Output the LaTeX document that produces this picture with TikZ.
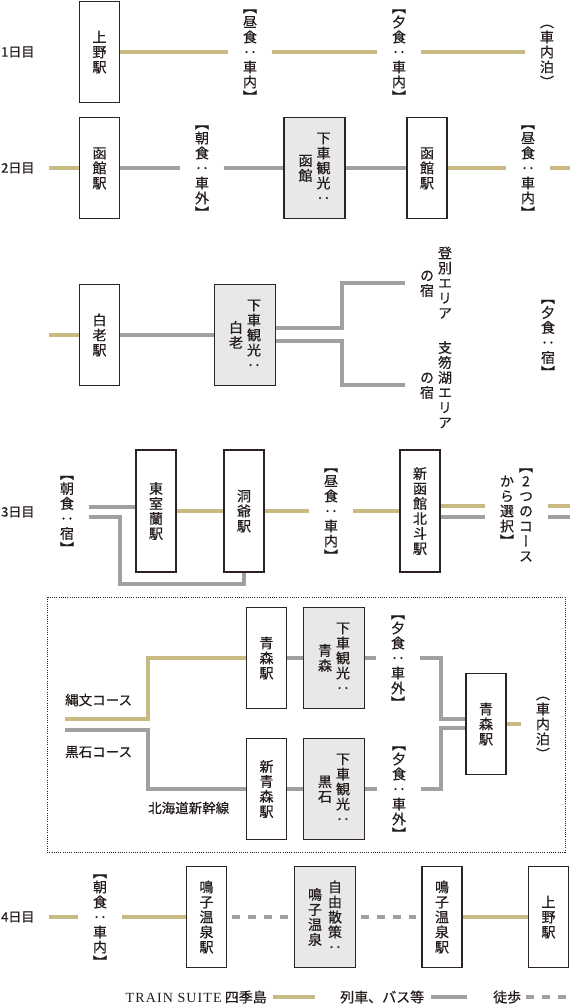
\documentclass[tikz,border=0pt]{standalone}
\usepackage{fontspec}
\usepackage{xcolor}
\usepackage{tikz}
\usetikzlibrary{positioning, calc}
\setmainfont{Noto Sans CJK JP}[FakeBold=0.6, AutoFakeBold=0.6]
\newfontfamily\vjp[RawFeature=+vert, FakeBold=0.5]{Noto Sans CJK JP}
\newfontfamily\latinserif[LetterSpace=8]{Liberation Serif}
\definecolor{suitegold}{RGB}{201, 185, 130}
\definecolor{transitgray}{RGB}{160, 160, 160}
\definecolor{boxline}{RGB}{45, 35, 35}
\definecolor{boxfill}{RGB}{232, 232, 232}
\definecolor{inkdark}{RGB}{35, 28, 26}

% one upright glyph per cell, stacked top to bottom
\makeatletter
\newcommand\vcell[1]{\hbox to 15pt{\hss\vrule width 0pt height 12.8pt depth 2.2pt\relax
  \vjp\fontsize{14pt}{15pt}\selectfont #1\hss}}
\newcommand\vcol[1]{$\vcenter{\offinterlineskip\@tfor\vc@tok:=#1\do{\vcell{\vc@tok}}}$}
\makeatother

\tikzset{
  stationbox/.style={draw=boxline, line width=1.2pt, fill=white, minimum width=40pt,
    minimum height=101pt, inner sep=0pt, text=inkdark},
  visitbox/.style={stationbox, fill=boxfill, minimum width=61pt},
  tallbox/.style={minimum height=122pt},
  mealnote/.style={inner xsep=14pt, inner ysep=0pt, text=inkdark},
  dayname/.style={font=\fontsize{13pt}{13pt}\selectfont\bfseries, text=inkdark, anchor=west, inner sep=0pt},
  courselabel/.style={font=\fontsize{13.5pt}{13.5pt}\selectfont, text=inkdark, anchor=west, inner sep=0pt},
  keytext/.style={font=\fontsize{14pt}{14pt}\selectfont, text=inkdark, inner sep=0pt},
  suiteline/.style={suitegold, line width=4pt},
  transitline/.style={transitgray, line width=4pt},
  walkline/.style={transitgray, line width=4pt, dash pattern=on 8pt off 8pt},
}

\begin{document}
\begin{tikzpicture}[x=1pt, y=-1pt]
    \useasboundingbox (0,0) rectangle (570,1006);

    % day 1
    \node[dayname] (day1) at (1,52) {1日目};
    \node[stationbox] (ueno1) at (99.5,52) {\vcol{上野駅}};
    \node[mealnote] (lunch1) at (250,52) {\vcol{【昼食：車内】}};
    \node[mealnote] (dinner1) at (399,52) {\vcol{【夕食：車内】}};
    \node[mealnote] (night1) at (547,52) {\vcol{（車内泊）}};
    \draw[suiteline] (ueno1.east) -- (lunch1.west) (lunch1.east) -- (dinner1.west)
        (dinner1.east) -- (night1.west);

    % day 2
    \node[dayname] (day2) at (1,168) {2日目};
    \coordinate (in2) at (49,168);
    \node[stationbox] (hako1) at (99.5,168) {\vcol{函館駅}};
    \node[mealnote] (bfast2) at (202,168) {\vcol{【朝食：車外】}};
    \node[visitbox] (hakoview) at (314.5,168) {\vcol{函館}\hspace{3pt}\vcol{下車観光：}};
    \node[stationbox] (hako2) at (427,168) {\vcol{函館駅}};
    \node[mealnote] (lunch2) at (528,168) {\vcol{【昼食：車内】}};
    \coordinate (out2) at (570,168);
    \draw[suiteline] (in2) -- (hako1.west);
    \draw[transitline] (hako1.east) -- (bfast2.west) (bfast2.east) -- (hakoview.west)
        (hakoview.east) -- (hako2.west);
    \draw[suiteline] (hako2.east) -- (lunch2.west) (lunch2.east) -- (out2);

    % shiraoi and the two inns
    \coordinate (in2b) at (49,335);
    \node[stationbox] (shiraoi) at (99.5,335) {\vcol{白老駅}};
    \node[visitbox] (shiraoiview) at (245,335) {\vcol{白老}\hspace{3pt}\vcol{下車観光：}};
    \node[mealnote] (noboribetsu) at (436,283) {\vcol{の宿}\hspace{3pt}\vcol{登別エリア}};
    \node[mealnote] (shikotsu) at (436,385) {\vcol{の宿}\hspace{3pt}\vcol{支笏湖エリア}};
    \node[mealnote] (dinner2) at (548,335) {\vcol{【夕食：宿】}};
    \coordinate (fork2) at (342,335);
    \draw[suiteline] (in2b) -- (shiraoi.west);
    \draw[transitline] (shiraoi.east) -- (shiraoiview.west);
    \draw[transitline] ([yshift=7pt]shiraoiview.east) -| (fork2 |- noboribetsu.west) -- (noboribetsu.west);
    \draw[transitline] ([yshift=-6pt]shiraoiview.east) -| (fork2 |- shikotsu.west) -- (shikotsu.west);

    % day 3
    \node[dayname] (day3) at (1,512) {3日目};
    \node[mealnote] (bfast3) at (67,511) {\vcol{【朝食：宿】}};
    \node[stationbox, tallbox] (higashimuroran) at (156,511) {\vcol{東室蘭駅}};
    \node[stationbox, tallbox] (toya) at (244,511) {\vcol{洞爺駅}};
    \node[mealnote] (lunch3) at (331,511) {\vcol{【昼食：車内】}};
    \node[stationbox, tallbox] (shinhakodate) at (420,511) {\vcol{新函館北斗駅}};
    \node[mealnote] (choice) at (516.5,511) {\vcol{から選択】}\hspace{4pt}\vcol{【2つのコース}};
    \coordinate (out3) at (570,511);
    \draw[transitline] ([yshift=4pt]bfast3.east) -- ([yshift=4pt]higashimuroran.west);
    \draw[transitline] ([yshift=-6pt]bfast3.east) -- ++(31,0) |- ($(toya.south)+(0,11)$) -- (toya.south);
    \draw[suiteline] (higashimuroran.east) -- (toya.west) (toya.east) -- (lunch3.west)
        (lunch3.east) -- (shinhakodate.west);
    \draw[suiteline] ([yshift=5pt]shinhakodate.east) -- ([yshift=5pt]choice.west)
        ([yshift=5pt]choice.east) -- ([yshift=5pt]out3);
    \draw[transitline] ([yshift=-6pt]shinhakodate.east) -- ([yshift=-6pt]choice.west)
        ([yshift=-6pt]choice.east) -- ([yshift=-6pt]out3);

    % the two aomori courses
    \draw[boxline, line width=0.9pt, dash pattern=on 1pt off 1.2pt] (47,597) rectangle (565,852);
    \node[courselabel] (jomon) at (65,700) {縄文コース};
    \node[courselabel] (kuroishi) at (65,752) {黒石コース};
    \node[courselabel] (shinkansen) at (148,808) {北海道新幹線};
    \coordinate (jomonstart) at (65,719);
    \coordinate (kuroishistart) at (65,730);
    \node[stationbox] (aomori1) at (266.5,658) {\vcol{青森駅}};
    \node[visitbox] (aomoriview) at (334,658) {\vcol{青森}\hspace{3pt}\vcol{下車観光：}};
    \node[mealnote] (dinnerA) at (398,658) {\vcol{【夕食：車外】}};
    \node[stationbox] (shinaomori) at (266.5,789) {\vcol{新青森駅}};
    \node[visitbox] (kuroishiview) at (334,789) {\vcol{黒石}\hspace{3pt}\vcol{下車観光：}};
    \node[mealnote] (dinnerB) at (399,789) {\vcol{【夕食：車外】}};
    \node[stationbox] (aomori2) at (486,724) {\vcol{青森駅}};
    \node[mealnote] (night3) at (543,724) {\vcol{（車内泊）}};
    \draw[suiteline] (jomonstart) -- ++(83,0) |- (aomori1.west);
    \draw[transitline] (kuroishistart) -- ++(83,0) |- (shinaomori.west);
    \draw[transitline] (aomori1.east) -- (aomoriview.west) (aomoriview.east) -- (dinnerA.west);
    \draw[transitline] (shinaomori.east) -- (kuroishiview.west) (kuroishiview.east) -- (dinnerB.west);
    \draw[transitline] (dinnerA.east) -- ++(21,0) |- ([yshift=5pt]aomori2.west);
    \draw[transitline] (dinnerB.east) -- ++(20,0) |- ([yshift=-4pt]aomori2.west);
    \draw[suiteline] (aomori2.east) -- (night3.west);

    % day 4
    \node[dayname] (day4) at (1,917) {4日目};
    \coordinate (in4) at (49,917);
    \node[mealnote] (bfast4) at (100,917) {\vcol{【朝食：車内】}};
    \node[stationbox] (naruko1) at (206.5,917) {\vcol{鳴子温泉駅}};
    \node[visitbox] (narukowalk) at (325,917) {\vcol{鳴子温泉}\hspace{5pt}\vcol{自由散策：}};
    \node[stationbox] (naruko2) at (442,917) {\vcol{鳴子温泉駅}};
    \node[stationbox] (ueno2) at (548.5,917) {\vcol{上野駅}};
    \draw[suiteline] (in4) -- (bfast4.west) (bfast4.east) -- (naruko1.west);
    \draw[walkline, shorten <=5pt, shorten >=5pt] (naruko1.east) -- (narukowalk.west);
    \draw[walkline, shorten <=5pt, shorten >=5pt] (narukowalk.east) -- (naruko2.west);
    \draw[suiteline] (naruko2.east) -- (ueno2.west);

    % legend
    \node[keytext, anchor=east] (keysuite) at (267,997) {{\latinserif TRAIN SUITE} 四季島};
    \node[keytext, anchor=west] (keytransit) at (340,997) {列車、バス等};
    \node[keytext, anchor=west] (keywalk) at (493,997) {徒歩};
    \coordinate (keyend) at (567,997);
    \draw[suiteline] ([xshift=6pt]keysuite.east) -- ([xshift=-25pt]keytransit.west);
    \draw[transitline] ([xshift=7pt]keytransit.east) -- ([xshift=-26pt]keywalk.west);
    \draw[walkline] ([xshift=5pt]keywalk.east) -- (keyend);
\end{tikzpicture}
\end{document}
